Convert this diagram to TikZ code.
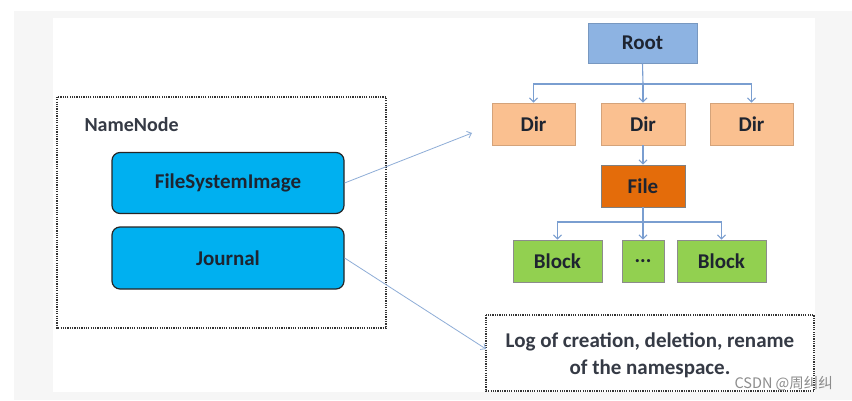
\documentclass[tikz,border=0pt]{standalone}
\usepackage{fontspec}
\setmainfont{Carlito}
\newfontfamily\cjkfont{Noto Sans CJK SC}
\usetikzlibrary{arrows.meta}
\definecolor{rootblue}{HTML}{8DB3E2}
\definecolor{dirpeach}{HTML}{FAC090}
\definecolor{fileorange}{HTML}{E46C0A}
\definecolor{blockgreen}{HTML}{92D050}
\definecolor{nodecyan}{HTML}{00B0F0}
\definecolor{linkblue}{HTML}{7A9ED0}
\definecolor{pagegray}{HTML}{F6F6F6}
\definecolor{inkdark}{HTML}{1E2430}

\begin{document}
\begin{tikzpicture}[x=1pt, y=-1pt, font=\bfseries\fontsize{21}{24}\selectfont,
		box/.style={minimum width=#1, minimum height=42pt, inner sep=0pt, draw=black!35, line width=0.8pt, text=inkdark},
		treelink/.style={draw=linkblue, line width=1.1pt, -{Straight Barb[length=4pt,width=8pt]}},
		pointer/.style={draw=linkblue!85, line width=0.8pt, -{Straight Barb[length=4pt,width=7pt]}},
		dotbox/.style={draw=black!80, line width=1.4pt, dash pattern=on 1.2pt off 1.1pt}]
		\useasboundingbox (0, 0) rectangle (852, 401);
		% page background
		\fill[white] (0, 0) rectangle (852, 401);
		\fill[pagegray] (14, 11) rectangle (852, 400);
		\fill[white] (53, 18) rectangle (815, 392);

		% name node side
		\draw[dotbox] (57, 97) rectangle (386, 328);
		\node[anchor=west, text=inkdark!90, font=\bfseries\fontsize{20}{24}\selectfont] (nnlabel) at (81, 125) {NameNode};
		\node[box=232pt, minimum height=61pt, fill=nodecyan, draw=black!85, line width=1.2pt, rounded corners=8pt] (fsimage) at (228, 183) {FileSystemImage};
		\node[box=232pt, minimum height=62pt, fill=nodecyan, draw=black!85, line width=1.2pt, rounded corners=8pt] (journal) at (228, 258) {Journal};

		% namespace tree
		\node[box=109pt, minimum height=40pt, fill=rootblue, draw=rootblue!85!black] (root) at (642.5, 43) {Root};
		\node[box=83pt, fill=dirpeach, draw=dirpeach!85!black] (dirA) at (533.5, 124) {Dir};
		\node[box=84pt, fill=dirpeach, draw=dirpeach!85!black] (dirB) at (643, 124) {Dir};
		\node[box=83pt, fill=dirpeach, draw=dirpeach!85!black] (dirC) at (751.5, 124) {Dir};
		\node[box=84pt, fill=fileorange, draw=black!50] (file) at (643, 186) {File};
		\node[box=89pt, fill=blockgreen, draw=black!45] (blockA) at (557.5, 261) {Block};
		\node[box=42pt, fill=blockgreen, draw=black!45] (dots) at (643, 261) {...};
		\node[box=89pt, fill=blockgreen, draw=black!45] (blockB) at (721.5, 261) {Block};

		\coordinate (rootfork) at (643, 84);
		\coordinate (filefork) at (643, 222);
		\draw[draw=linkblue, line width=1.1pt] (root.south) -- (rootfork);
		\draw[treelink] (rootfork) -| (dirA.north);
		\draw[treelink] (rootfork) -- (dirB.north);
		\draw[treelink] (rootfork) -| (dirC.north);
		\draw[treelink] (dirB.south) -- (file.north);
		\draw[draw=linkblue, line width=1.1pt] (file.south) -- (filefork);
		\draw[treelink] (filefork) -| (blockA.north);
		\draw[treelink] (filefork) -- (dots.north);
		\draw[treelink] (filefork) -| (blockB.north);

		% log box
		\draw[dotbox] (486, 315) rectangle (814, 391);
		\node[align=center, text=inkdark!90, font=\bfseries\fontsize{21}{27}\selectfont] (log) at (650, 355) {Log of creation, deletion, rename\\of the namespace.};

		% pointers
		\coordinate (treetip) at (472, 133);
		\coordinate (logtip) at (486, 349);
		\draw[pointer] (fsimage.east) -- (treetip);
		\draw[pointer] (journal.east) -- (logtip);

		% watermark
		\node[anchor=west, text=black!45, font=\cjkfont\fontsize{14.5}{16}\selectfont] (mark) at (731, 384) {CSDN @周纠纠};
	\end{tikzpicture}
\end{document}
